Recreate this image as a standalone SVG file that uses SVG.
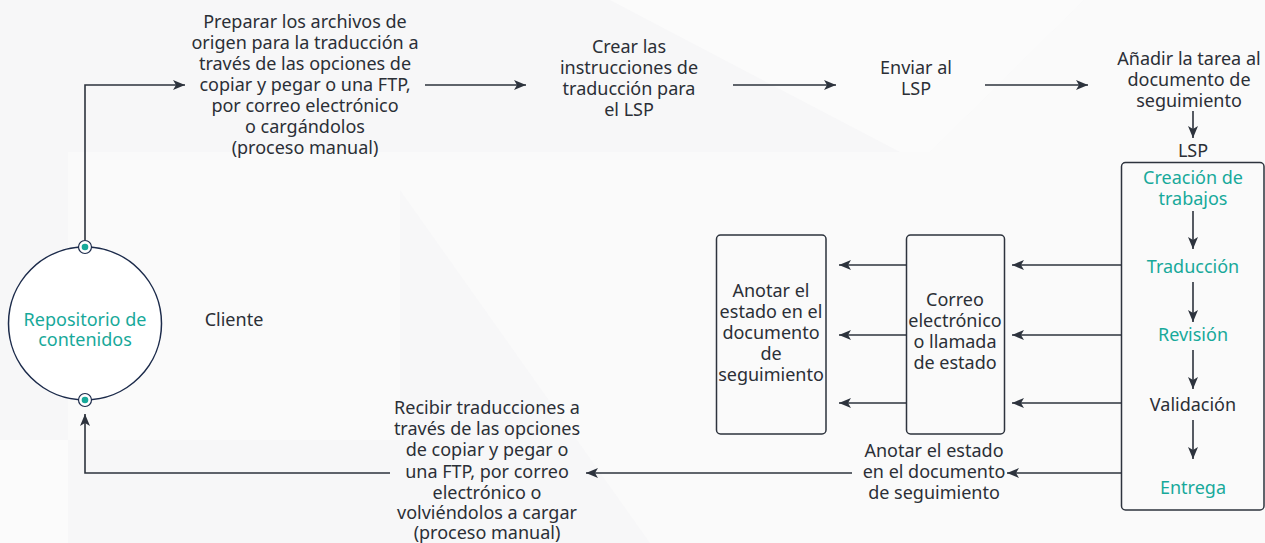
<svg xmlns="http://www.w3.org/2000/svg" width="1265" height="543" viewBox="0 0 1265 543">
<style>
.t{font-family:"Noto Sans","Open Sans","Liberation Sans",sans-serif;font-size:18px;fill:#2b2f36;text-anchor:middle}
.g{fill:#17a99a}
.ln{fill:none;stroke:#2d333d;stroke-width:1.6}
.box{fill:none;stroke:#2d333d;stroke-width:1.5}
</style>
<defs>
<marker id="ah" markerUnits="userSpaceOnUse" markerWidth="14" markerHeight="12" refX="13" refY="6" orient="auto">
<path d="M1,1 L13,6 L1,11 L4,6 z" fill="#2d333d"/>
</marker>
</defs>
<g id="background">
<rect width="1265" height="543" fill="#f7f7f8"/>
<polygon points="610,0 1084,0 930,152 900,152" fill="#fbfbfb"/>
<polygon points="1084,0 1265,0 1265,152 930,152" fill="#fafafa"/>
<polygon points="68,152 1265,152 1265,543 650,543 400,190 400,440 68,440" fill="#fafafa"/>
<polygon points="0,440 68,440 68,543 0,543" fill="#fbfbfb"/>
</g>
<g id="connectors">
<polyline class="ln" points="85,240 85,85 185,85" marker-end="url(#ah)"/>
<line class="ln" x1="425" y1="85" x2="526" y2="85" marker-end="url(#ah)"/>
<line class="ln" x1="733" y1="85" x2="836" y2="85" marker-end="url(#ah)"/>
<line class="ln" x1="985" y1="85" x2="1088" y2="85" marker-end="url(#ah)"/>
<line class="ln" x1="1193" y1="111" x2="1193" y2="138" marker-end="url(#ah)"/>
<line class="ln" x1="1193" y1="211" x2="1193" y2="249" marker-end="url(#ah)"/>
<line class="ln" x1="1193" y1="282" x2="1193" y2="322" marker-end="url(#ah)"/>
<line class="ln" x1="1193" y1="350" x2="1193" y2="389" marker-end="url(#ah)"/>
<line class="ln" x1="1193" y1="420" x2="1193" y2="459" marker-end="url(#ah)"/>
<line class="ln" x1="1121" y1="265" x2="1012" y2="265" marker-end="url(#ah)"/>
<line class="ln" x1="1121" y1="335" x2="1012" y2="335" marker-end="url(#ah)"/>
<line class="ln" x1="1121" y1="403" x2="1012" y2="403" marker-end="url(#ah)"/>
<line class="ln" x1="906" y1="265" x2="839" y2="265" marker-end="url(#ah)"/>
<line class="ln" x1="906" y1="335" x2="839" y2="335" marker-end="url(#ah)"/>
<line class="ln" x1="906" y1="403" x2="839" y2="403" marker-end="url(#ah)"/>
<line class="ln" x1="1121" y1="473" x2="1007" y2="473" marker-end="url(#ah)"/>
<line class="ln" x1="852" y1="473" x2="586" y2="473" marker-end="url(#ah)"/>
<polyline class="ln" points="390,473 85,473 85,414" marker-end="url(#ah)"/>
</g>
<g id="repositorio">
<circle cx="85" cy="323.5" r="76.5" fill="#ffffff" stroke="#1c2b4b" stroke-width="1.5"/>
<circle cx="85" cy="247" r="6.5" fill="#ffffff" stroke="#1c2b4b" stroke-width="1.2"/>
<circle cx="85" cy="247" r="3.3" fill="#17a99a"/>
<circle cx="85" cy="400" r="6.5" fill="#ffffff" stroke="#1c2b4b" stroke-width="1.2"/>
<circle cx="85" cy="400" r="3.3" fill="#17a99a"/>
<text class="t g" x="85" y="325.5">Repositorio de</text>
<text class="t g" x="85" y="345.5">contenidos</text>
</g>
<g id="cliente">
<text class="t" x="234" y="325.5">Cliente</text>
</g>
<g id="preparar">
<text class="t" x="305" y="27.5">Preparar los archivos de</text>
<text class="t" x="305" y="49">origen para la traducción a</text>
<text class="t" x="305" y="70">través de las opciones de</text>
<text class="t" x="305" y="91">copiar y pegar o una FTP,</text>
<text class="t" x="305" y="112">por correo electrónico</text>
<text class="t" x="305" y="133">o cargándolos</text>
<text class="t" x="305" y="154">(proceso manual)</text>
</g>
<g id="crear">
<text class="t" x="629" y="53">Crear las</text>
<text class="t" x="629" y="74">instrucciones de</text>
<text class="t" x="629" y="95">traducción para</text>
<text class="t" x="629" y="116">el LSP</text>
</g>
<g id="enviar">
<text class="t" x="916" y="74">Enviar al</text>
<text class="t" x="916" y="95">LSP</text>
</g>
<g id="anadir">
<text class="t" x="1189" y="65">Añadir la tarea al</text>
<text class="t" x="1189" y="86">documento de</text>
<text class="t" x="1189" y="107">seguimiento</text>
</g>
<g id="lsp">
<text class="t" x="1193" y="157">LSP</text>
<rect class="box" x="1121.5" y="162.5" width="142.5" height="347.5" rx="4"/>
<text class="t g" x="1193" y="184">Creación de</text>
<text class="t g" x="1193" y="205">trabajos</text>
<text class="t g" x="1193" y="273">Traducción</text>
<text class="t g" x="1193" y="341">Revisión</text>
<text class="t" x="1193" y="411">Validación</text>
<text class="t g" x="1193" y="494">Entrega</text>
</g>
<g id="correo">
<rect class="box" x="906.5" y="235" width="98" height="199" rx="4"/>
<text class="t" x="955" y="306">Correo</text>
<text class="t" x="955" y="327">electrónico</text>
<text class="t" x="955" y="348">o llamada</text>
<text class="t" x="955" y="369">de estado</text>
</g>
<g id="anotar-box">
<rect class="box" x="716.5" y="235" width="109.5" height="199" rx="4"/>
<text class="t" x="771" y="297">Anotar el</text>
<text class="t" x="771" y="318">estado en el</text>
<text class="t" x="771" y="339">documento</text>
<text class="t" x="771" y="360">de</text>
<text class="t" x="771" y="381">seguimiento</text>
</g>
<g id="anotar-label">
<text class="t" x="934" y="457">Anotar el estado</text>
<text class="t" x="934" y="478">en el documento</text>
<text class="t" x="934" y="499">de seguimiento</text>
</g>
<g id="recibir">
<text class="t" x="487" y="414">Recibir traducciones a</text>
<text class="t" x="487" y="435">través de las opciones</text>
<text class="t" x="487" y="456">de copiar y pegar o</text>
<text class="t" x="487" y="477.5">una FTP, por correo</text>
<text class="t" x="487" y="498.5">electrónico o</text>
<text class="t" x="487" y="519">volviéndolos a cargar</text>
<text class="t" x="487" y="539">(proceso manual)</text>
</g>
</svg>
